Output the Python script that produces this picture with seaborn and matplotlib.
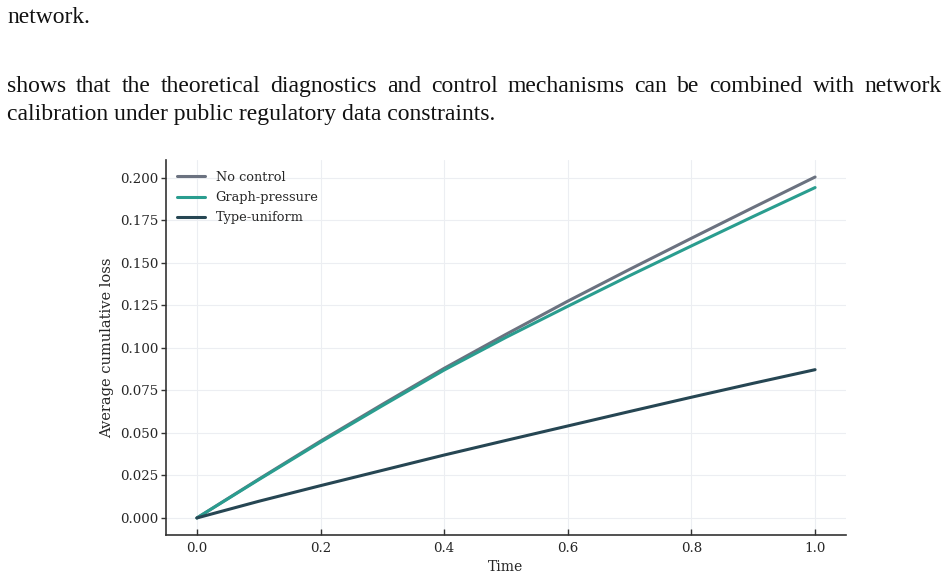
import numpy as np
import pandas as pd
import seaborn as sns
import matplotlib.pyplot as plt

# valori
time = [0.0, 0.1, 0.2, 0.3, 0.4, 0.5, 0.6, 0.7, 0.8, 0.9, 1.0]
no_control = [0.0, 0.0228, 0.0452, 0.0668, 0.0880, 0.1080, 0.1275, 0.1462, 0.1645, 0.1826, 0.2005]
graph_pressure = [0.0, 0.0225, 0.0446, 0.0660, 0.0870, 0.1062, 0.1245, 0.1425, 0.1600, 0.1773, 0.1943]
type_uniform = [0.0, 0.0098, 0.0190, 0.0280, 0.0370, 0.0456, 0.0541, 0.0626, 0.0710, 0.0792, 0.0872]
series_names = ["No control", "Graph-pressure", "Type-uniform"]
colors = ["#6b7280", "#2a9d8f", "#264653"]

df = pd.DataFrame({
    "Time": time * 3,
    "loss": no_control + graph_pressure + type_uniform,
    "policy": [n for n in series_names for _ in time],
})

sns.set_style("whitegrid")
plt.rcParams["font.family"] = ["DejaVu Serif"]

fig = plt.figure(figsize=(9.48, 5.79), dpi=100)
ax = fig.add_axes([0.1751, 0.0760, 0.7173, 0.6477])

sns.lineplot(data=df, x="Time", y="loss", hue="policy", palette=colors,
             hue_order=series_names, linewidth=2.2, ax=ax)

ax.set_xticks([0.0, 0.2, 0.4, 0.6, 0.8, 1.0])
ax.set_yticks(np.arange(0, 0.201, 0.025))
ax.set_yticklabels([f"{v:.3f}" for v in np.arange(0, 0.201, 0.025)])
ax.set_xlabel("Time", fontsize=10)
ax.set_ylabel("Average cumulative loss", fontsize=10.5)
ax.tick_params(axis="y", direction="out", length=3.5, width=1, pad=2, labelsize=9.6,
               color="#333333", left=True)
ax.tick_params(axis="x", direction="in", length=4, width=1, pad=5, labelsize=9.6,
               color="#333333", bottom=True)
ax.grid(True, color="#eceef2", linewidth=0.8)
for side in ["top", "right"]:
    ax.spines[side].set_visible(False)
for side in ["left", "bottom"]:
    ax.spines[side].set_color("#333333")
    ax.spines[side].set_linewidth(1.2)

leg = ax.legend(loc="upper left", frameon=False, fontsize=9.3, handlelength=2.2,
                borderaxespad=0.45, labelspacing=0.55, handletextpad=0.8)
for line in leg.get_lines():
    line.set_linewidth(2.2)

# textul documentului de deasupra graficului (aliniat pe linia de baza)
tfont = dict(family="Liberation Serif", fontsize=17, color="#111111")
fig.text(7 / 948, 1 - 23 / 579, "network.", va="baseline", ha="left", **tfont)
fig.text(7 / 948, 1 - 120 / 579, "calibration under public regulatory data constraints.",
         va="baseline", ha="left", **tfont)

# prima linie justificata pe toata latimea
words = "shows that the theoretical diagnostics and control mechanisms can be combined with network".split()
renderer = fig.canvas.get_renderer()
left_px, right_px = 7, 942
arts = [fig.text(0, 1 - 92 / 579, w, va="baseline", ha="left", **tfont) for w in words]
widths = [a.get_window_extent(renderer).width for a in arts]
gap = (right_px - left_px - sum(widths)) / (len(words) - 1)
x = left_px
for a, w in zip(arts, widths):
    a.set_x(x / 948)
    x += w + gap

fig.savefig("out.png", dpi=100)
